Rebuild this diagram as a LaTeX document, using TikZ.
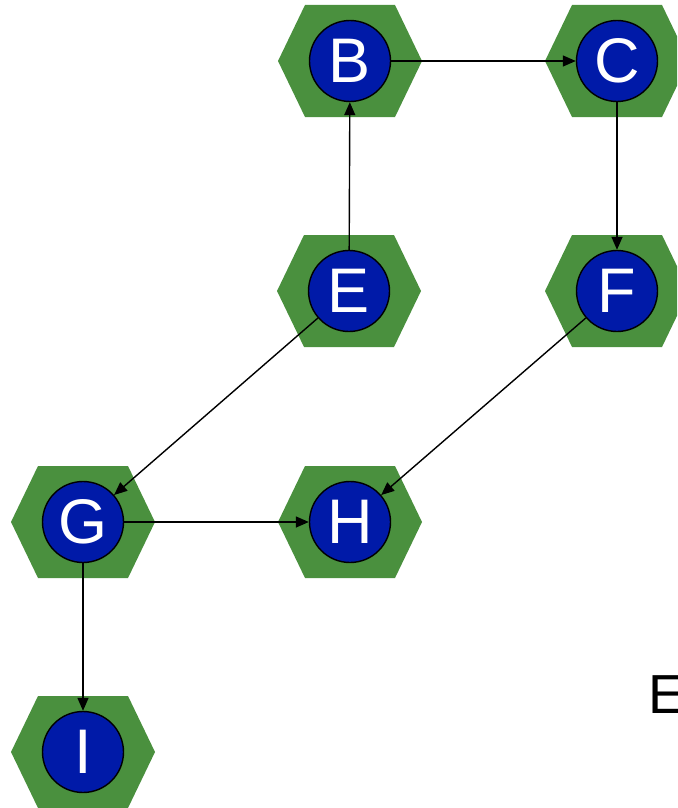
\documentclass[tikz,border=0pt]{standalone}
\usepackage{fontspec}
\setmainfont{Liberation Sans}
\usetikzlibrary{arrows.meta}
\definecolor{hexgreen}{RGB}{74,144,62}
\definecolor{nodeblue}{RGB}{0,26,168}
\tikzset{
  vert/.style={circle, fill=nodeblue, draw=black, line width=1.4pt, minimum size=81pt, inner sep=0pt,
    text=white, font=\fontsize{63}{66}\selectfont},
  hexshape/.style={fill=hexgreen},
  edge/.style={draw=black, line width=1.4pt, -{Triangle[length=13pt,width=11pt]}},
  lbl/.style={inner sep=0pt, font=\fontsize{55}{60}\selectfont, text=black}
}
\newcommand{\hexvert}[4]{%
  \fill[hexshape] (#2-72,#3) -- (#2-45,#3-56) -- (#2+45,#3-56) -- (#2+72,#3) -- (#2+45,#3+56) -- (#2-45,#3+56) -- cycle;
  \node[vert] (#1) at (#2,#3) {\raisebox{-2.5pt}{#4}};
}
\begin{document}
\begin{tikzpicture}[x=1pt,y=-1pt]
\useasboundingbox (0,0) rectangle (677,808);
\clip (0,0) rectangle (677,808);
\hexvert{B}{350}{61}{B}
\hexvert{C}{617}{61}{C}
\hexvert{E}{349}{291}{E}
\hexvert{F}{617}{291}{F}
\hexvert{G}{83}{522}{G}
\hexvert{H}{350}{522}{H}
\hexvert{I}{83}{752}{I}
\node[lbl, anchor=base west] (txt) at (648,713) {E};
\draw[edge] (B) -- (C);
\draw[edge] (E) -- (B);
\draw[edge] (C) -- (F);
\draw[edge] (E) -- (G);
\draw[edge] (F) -- (H);
\draw[edge] (G) -- (H);
\draw[edge] (G) -- (I);
\end{tikzpicture}
\end{document}
